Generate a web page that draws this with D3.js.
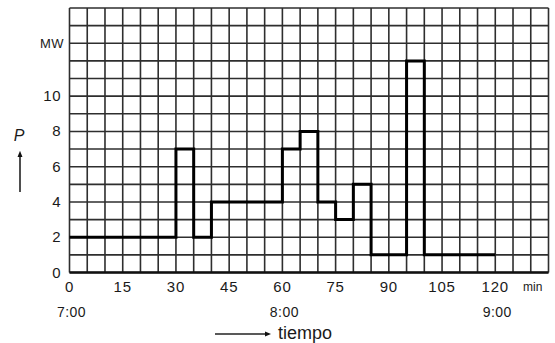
<!DOCTYPE html>
<html>
<head>
<meta charset="utf-8">
<script src="https://cdn.jsdelivr.net/npm/d3@7/dist/d3.min.js"></script>
<style>
  html, body { margin: 0; padding: 0; background: #fff; }
  svg { display: block; }
  text { font-family: "Liberation Sans", Arial, sans-serif; fill: #1a1a1a; }
</style>
</head>
<body>
<svg id="chart" width="555" height="343"></svg>
<script>
// Load profile: power demand (MW) held constant from each time (min) to the next
const minutes = [0, 30, 35, 40, 60, 65, 70, 75, 80, 85, 95, 100, 120];
const power   = [2, 7, 2, 4, 7, 8, 4, 3, 5, 1, 12, 1, 1];

// Axis labels
const xTicks = [0, 15, 30, 45, 60, 75, 90, 105, 120];
const yTicks = [0, 2, 4, 6, 8, 10];
const clockTicks = [0, 60, 120];
const clockLabels = ["7:00", "8:00", "9:00"];

const svg = d3.select("#chart");

const x = d3.scaleLinear().domain([0, 135]).range([69.5, 548.5]);
const y = d3.scaleLinear().domain([0, 15]).range([272.5, 8]);

// Millimetre-paper style grid: every 5 min and every 1 MW
const grid = svg.append("g").attr("stroke", "#2e2e2e").attr("stroke-width", 1.6);
grid.selectAll("line.v")
  .data(d3.range(0, 136, 5))
  .join("line")
  .attr("x1", d => x(d)).attr("x2", d => x(d))
  .attr("y1", y(15)).attr("y2", y(0));
grid.selectAll("line.h")
  .data(d3.range(0, 16, 1))
  .join("line")
  .attr("x1", x(0)).attr("x2", x(135))
  .attr("y1", d => y(d)).attr("y2", d => y(d));

// Baseline
svg.append("line")
  .attr("x1", x(0)).attr("x2", x(135))
  .attr("y1", y(0)).attr("y2", y(0))
  .attr("stroke", "#111").attr("stroke-width", 2.4);

// Step curve of the demand
const pts = minutes.map((m, i) => [m, power[i]]);
svg.append("path")
  .datum(pts)
  .attr("fill", "none")
  .attr("stroke", "#000")
  .attr("stroke-width", 3)
  .attr("stroke-linejoin", "miter")
  .attr("d", d3.line().x(d => x(d[0])).y(d => y(d[1])).curve(d3.curveStepAfter));

// Y tick labels
svg.append("g").selectAll("text")
  .data(yTicks)
  .join("text")
  .attr("x", 61)
  .attr("y", d => y(d) + 5)
  .attr("text-anchor", "end")
  .attr("font-size", 15)
  .attr("letter-spacing", 0.5)
  .text(d => d);

svg.append("text")
  .attr("x", 64).attr("y", y(13) + 5)
  .attr("text-anchor", "end")
  .attr("font-size", 13)
  .attr("letter-spacing", 0.5)
  .text("MW");

// X tick labels (minutes)
svg.append("g").selectAll("text")
  .data(xTicks)
  .join("text")
  .attr("x", d => x(d))
  .attr("y", 292)
  .attr("text-anchor", "middle")
  .attr("font-size", 15)
  .attr("letter-spacing", 0.8)
  .text(d => d);

svg.append("text")
  .attr("x", 523).attr("y", 291)
  .attr("font-size", 12)
  .text("min");

// Clock time labels
svg.append("g").selectAll("text")
  .data(clockTicks)
  .join("text")
  .attr("x", (d, i) => x(d) + 2)
  .attr("y", 317)
  .attr("text-anchor", "middle")
  .attr("font-size", 14)
  .attr("letter-spacing", 0.5)
  .text((d, i) => clockLabels[i]);

// Axis titles with arrows
const defs = svg.append("defs");
defs.append("marker")
  .attr("id", "head")
  .attr("viewBox", "0 0 10 10")
  .attr("refX", 5).attr("refY", 5)
  .attr("markerWidth", 4).attr("markerHeight", 4)
  .attr("orient", "auto")
  .append("path")
  .attr("d", "M0,1 L10,5 L0,9 Z")
  .attr("fill", "#111");

svg.append("text")
  .attr("x", 19).attr("y", 141)
  .attr("text-anchor", "middle")
  .attr("font-family", "Liberation Serif, serif")
  .attr("font-style", "italic")
  .attr("font-size", 16)
  .text("P");

svg.append("line")
  .attr("x1", 20).attr("x2", 20)
  .attr("y1", 192).attr("y2", 154)
  .attr("stroke", "#222").attr("stroke-width", 1.6)
  .attr("marker-end", "url(#head)");

svg.append("line")
  .attr("x1", 215).attr("x2", 268)
  .attr("y1", 334).attr("y2", 334)
  .attr("stroke", "#222").attr("stroke-width", 1.6)
  .attr("marker-end", "url(#head)");

svg.append("text")
  .attr("x", 278).attr("y", 339)
  .attr("font-size", 18)
  .text("tiempo");
</script>
</body>
</html>
